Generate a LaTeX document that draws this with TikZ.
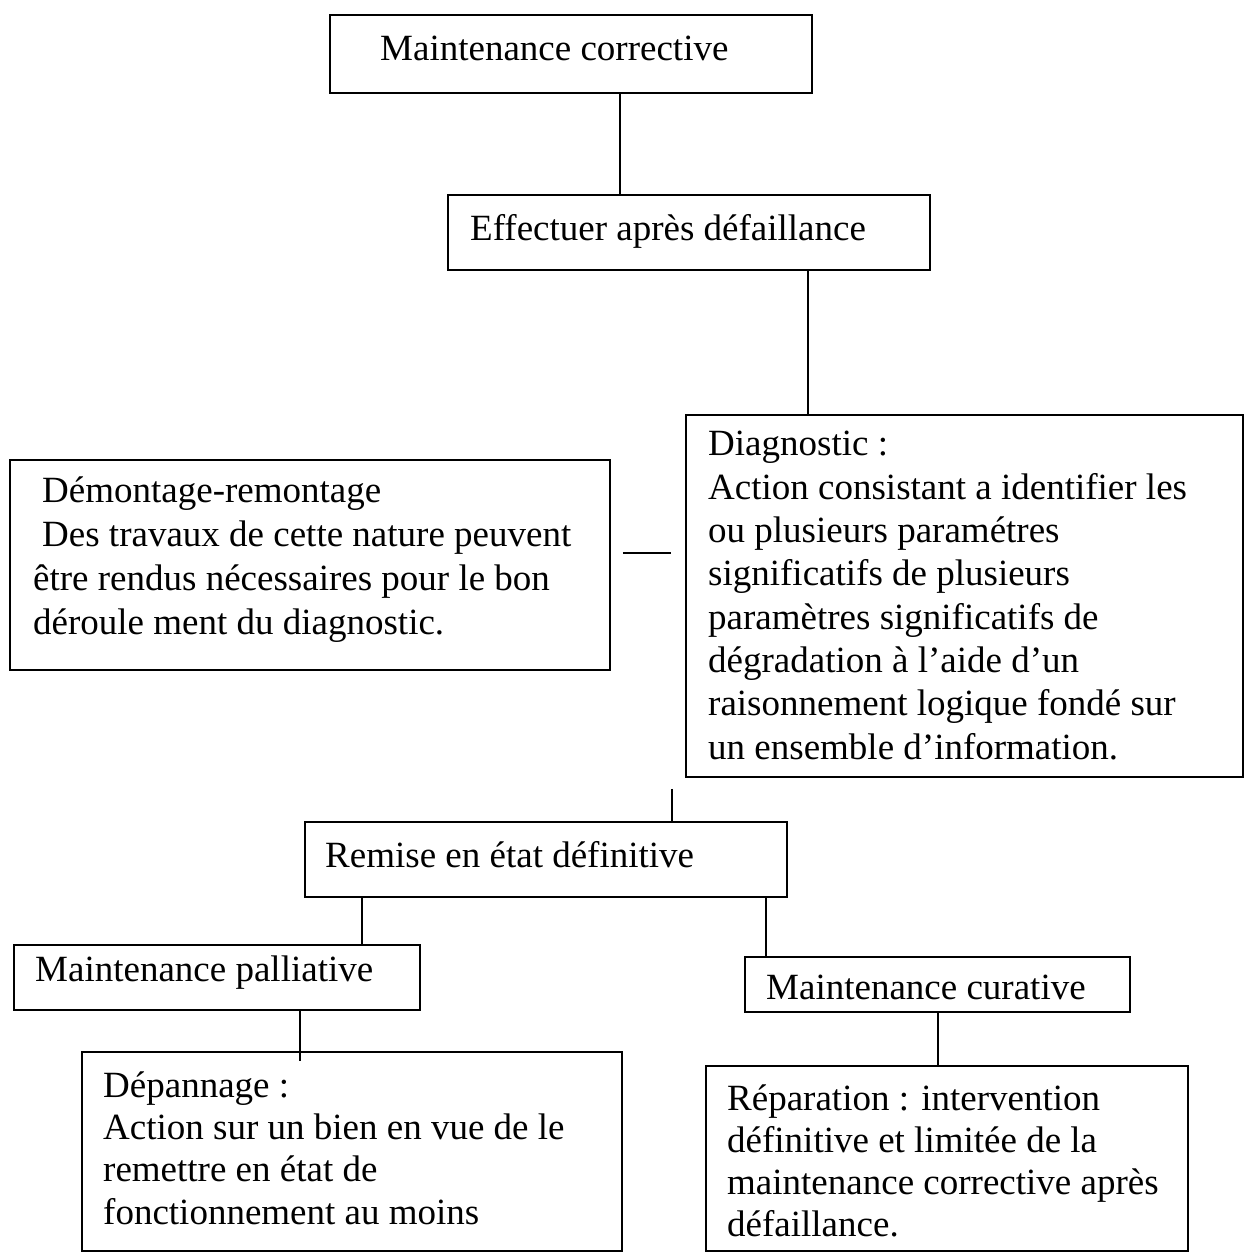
\documentclass[tikz,border=0pt]{standalone}
\usepackage{fontspec}
\setmainfont{Liberation Serif}
\begin{document}
\begin{tikzpicture}[x=1pt,y=-1pt,
  box/.style={draw, line width=1.6pt, inner sep=0pt},
  lbl/.style={inner sep=0pt, anchor=base west, align=left, font=\fontsize{37}{43.3}\selectfont},
  link/.style={line width=1.6pt}]
\useasboundingbox (0,0) rectangle (1251,1255);

% boxes
\node[box, minimum width=482pt, minimum height=78pt]  (b1)   at (571,54) {};
\node[box, minimum width=482pt, minimum height=75pt]  (b2)   at (689,232.5) {};
\node[box, minimum width=557pt, minimum height=362pt] (diag) at (964.5,596) {};
\node[box, minimum width=600pt, minimum height=210pt] (dem)  at (310,565) {};
\node[box, minimum width=482pt, minimum height=75pt]  (rem)  at (546,859.5) {};
\node[box, minimum width=406pt, minimum height=65pt]  (pall) at (217,977.5) {};
\node[box, minimum width=385pt, minimum height=55pt]  (cur)  at (937.5,984.5) {};
\node[box, minimum width=540pt, minimum height=199pt] (dep)  at (352,1151.5) {};
\node[box, minimum width=482pt, minimum height=185pt] (rep)  at (947,1158.5) {};

% texts (multi-line: anchor at baseline of last line)
\node[lbl] (t1) at (380,60) {Maintenance corrective};
\node[lbl] (t2) at (470,240) {Effectuer après défaillance};
\node[lbl] (tdiag) at (708,759) {Diagnostic :\\
Action consistant a identifier les\\
ou plusieurs paramétres\\
significatifs de plusieurs\\
paramètres significatifs de\\
dégradation à l’aide d’un\\
raisonnement logique fondé sur\\
un ensemble d’information.};
\node[lbl, font=\fontsize{37}{43.7}\selectfont] (tdem) at (33,634) {\hspace{9pt}Démontage-remontage\\
\hspace{9pt}Des travaux de cette nature peuvent\\
être rendus nécessaires pour le bon\\
déroule ment du diagnostic.};
\node[lbl] (trem) at (325,867) {Remise en état définitive};
\node[lbl] (tpall) at (35,981) {Maintenance palliative};
\node[lbl] (tcur) at (766,999) {Maintenance curative};
\node[lbl, font=\fontsize{37}{42.3}\selectfont] (tdep) at (103,1224) {Dépannage :\\
Action sur un bien en vue de le\\
remettre en état de\\
fonctionnement au moins};
\node[lbl, font=\fontsize{37}{41.7}\selectfont] (trep) at (727,1236) {Réparation : intervention\\
définitive et limitée de la\\
maintenance corrective après\\
défaillance.};

% connectors
\draw[link] ([xshift=49pt]b1.south) -- ([xshift=-69pt]b2.north);
\draw[link] ([xshift=119pt]b2.south) -- ([xshift=-156.5pt]diag.north);
\draw[link, shorten <=12pt, shorten >=14pt] ([yshift=12pt]dem.east) -- ([yshift=43pt]diag.west);
\draw[link, shorten <=11pt] ([xshift=-292.5pt]diag.south) -- ([xshift=126pt]rem.north);
\draw[link] ([xshift=-184pt]rem.south) -- ([xshift=145pt]pall.north);
\draw[link] ([xshift=220pt]rem.south) -- ([xshift=-171.5pt]cur.north);
\draw[link, shorten >=-10pt] ([xshift=83pt]pall.south) -- ([xshift=-52pt]dep.north);
\draw[link] ([xshift=0.5pt]cur.south) -- ([xshift=-9pt]rep.north);
\end{tikzpicture}
\end{document}
